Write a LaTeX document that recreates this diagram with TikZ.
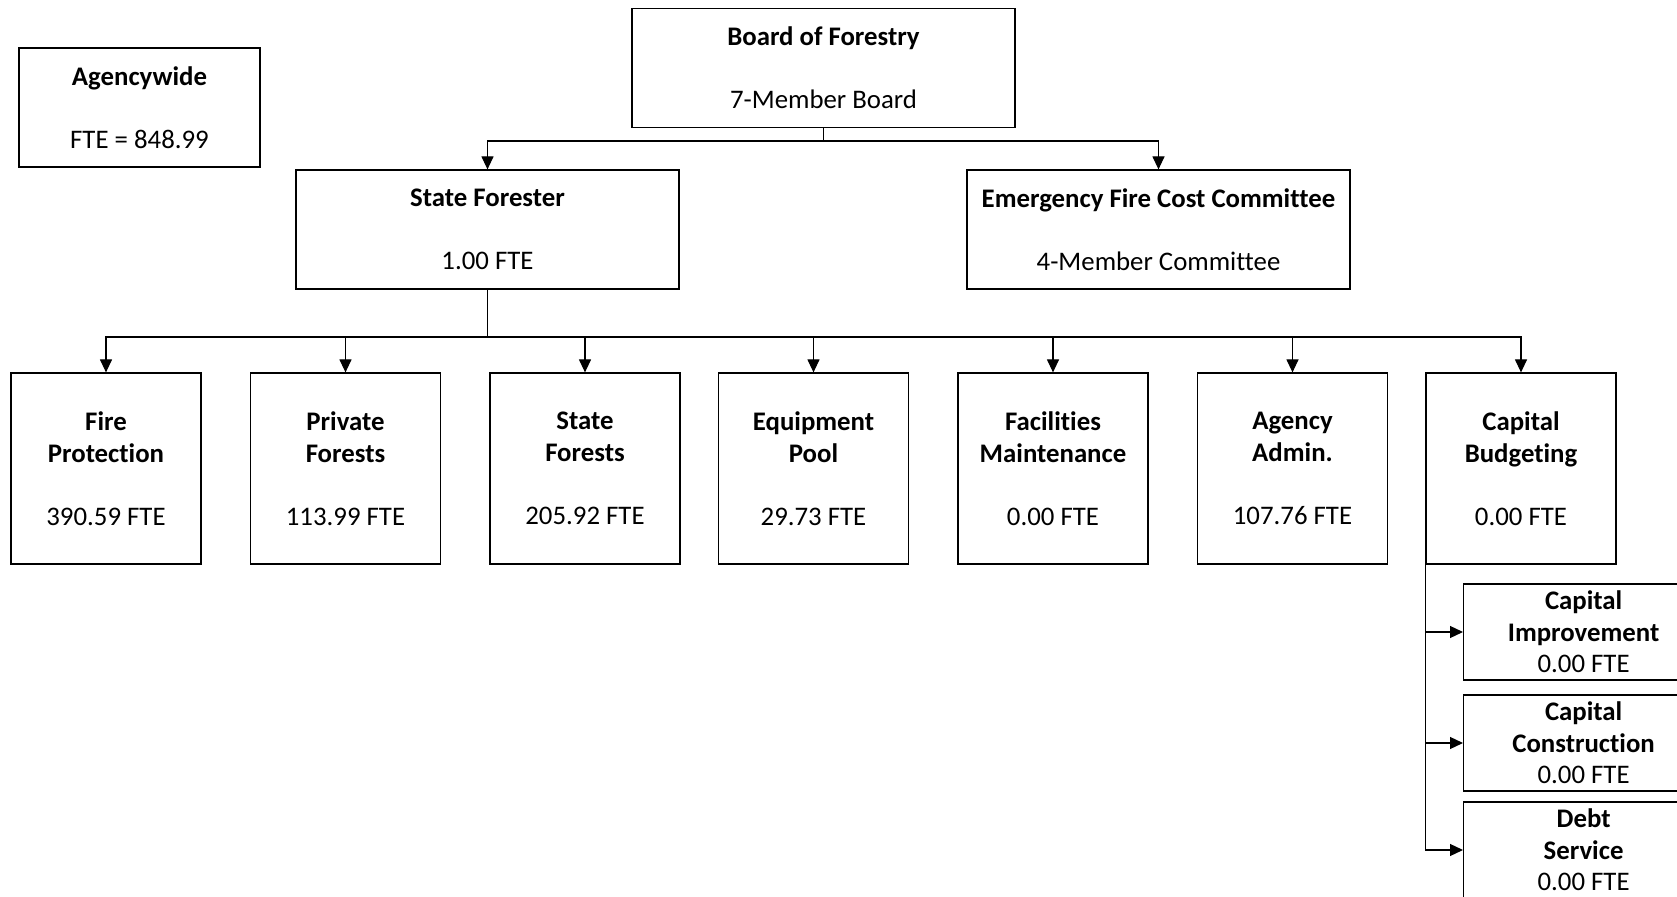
\documentclass[tikz,border=0pt]{standalone}
\usepackage{fontspec}
\setmainfont{Carlito}[Ligatures=NoCommon]
\usetikzlibrary{arrows.meta}

\begin{document}
\begin{tikzpicture}[x=0.5pt,y=-0.5pt]
\tikzstyle{boite}=[rectangle,draw,line width=0.6pt,align=center,inner sep=0pt,
font=\fontsize{13.4}{15.75}\selectfont]
\tikzstyle{grand}=[boite,minimum width=191.5pt,minimum height=59.5pt]
\tikzstyle{service}=[boite,minimum width=95pt,minimum height=95.5pt]
\tikzstyle{sous}=[boite,anchor=west,minimum width=120pt,minimum height=48pt]
\tikzstyle{suite}=[-{Triangle[length=6.5pt,width=6pt]},line width=0.6pt]

\useasboundingbox (0,0) rectangle (1677,897);

\node[boite,minimum width=120.5pt,minimum height=59.5pt] (agence) at (139.5,107.5)
  {\textbf{Agencywide}\\[15.75pt] FTE = 848.99};
\node[grand] (conseil) at (823.5,68) {\textbf{Board of Forestry}\\[15.75pt] 7-Member Board};
\node[grand] (forestier) at (487.5,229.5) {\textbf{State Forester}\\[15.75pt] 1.00 FTE};
\node[grand] (urgence) at (1158.5,229.5)
  {\textbf{Emergency Fire Cost Committee}\\[15.75pt] 4-Member Committee};

\node[service] (feu) at (106,468.5) {\textbf{Fire}\\ \textbf{Protection}\\[15.75pt] 390.59 FTE};
\node[service] (prive) at (345.5,468.5) {\textbf{Private}\\ \textbf{Forests}\\[15.75pt] 113.99 FTE};
\node[service] (etat) at (585,468.5) {\textbf{State}\\ \textbf{Forests}\\[15.75pt] 205.92 FTE};
\node[service] (materiel) at (813.5,468.5) {\textbf{Equipment}\\ \textbf{Pool}\\[15.75pt] 29.73 FTE};
\node[service] (locaux) at (1053,468.5) {\textbf{Facilities}\\ \textbf{Maintenance}\\[15.75pt] 0.00 FTE};
\node[service] (admin) at (1292.5,468.5) {\textbf{Agency}\\ \textbf{Admin.}\\[15.75pt] 107.76 FTE};
\node[service] (capital) at (1521,468.5) {\textbf{Capital}\\ \textbf{Budgeting}\\[15.75pt] 0.00 FTE};

\node[sous] (amelio) at (1463,632) {\textbf{Capital}\\ \textbf{Improvement}\\ 0.00 FTE};
\node[sous] (constr) at (1463,743) {\textbf{Capital}\\ \textbf{Construction}\\ 0.00 FTE};
\node[sous] (dette) at (1463,850) {\textbf{Debt}\\ \textbf{Service}\\ 0.00 FTE};

\coordinate (bus1) at (823.5,141);
\coordinate (bus2) at (487.5,337);

\draw[line width=0.6pt] (conseil.south) -- (bus1);
\draw[suite] (bus1) -| (forestier.north);
\draw[suite] (bus1) -| (urgence.north);
\draw[line width=0.6pt] (forestier.south) -- (bus2);
\foreach \s in {feu,prive,etat,materiel,locaux,admin,capital}
  \draw[suite] (bus2) -| (\s.north);
\foreach \s in {amelio,constr,dette}
  \draw[suite] (capital.south west) |- (\s.west);

\end{tikzpicture}
\end{document}
